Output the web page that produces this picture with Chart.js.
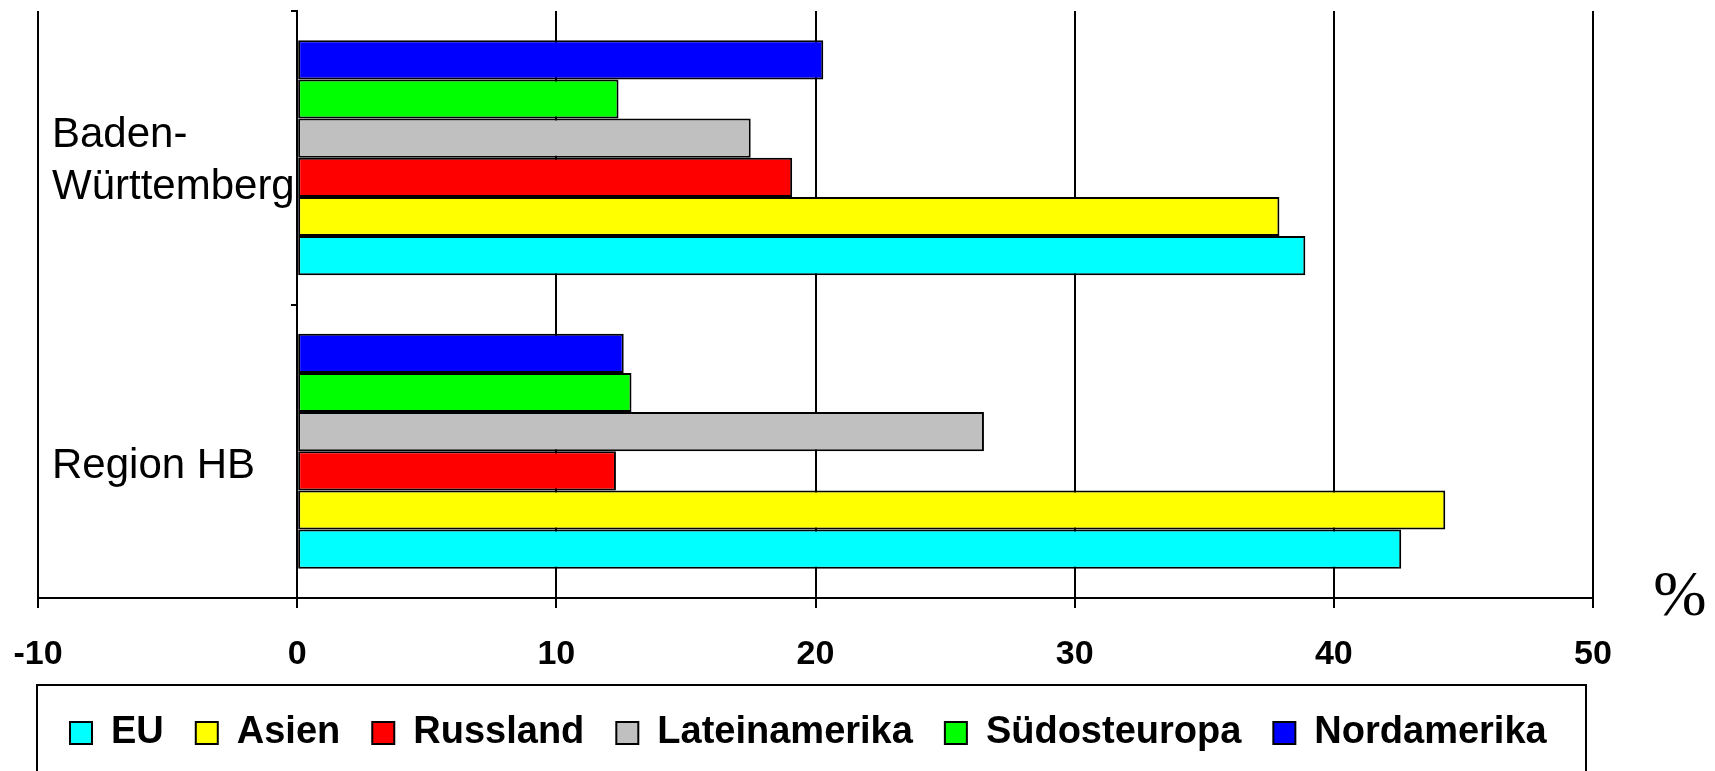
<!DOCTYPE html>
<html>
<head>
<meta charset="utf-8">
<script src="https://cdn.jsdelivr.net/npm/chart.js@4"></script>
<style>
  html, body { margin: 0; padding: 0; background: #fff; }
  canvas { display: block; }
</style>
</head>
<body>
<canvas id="chart" width="1715" height="771"></canvas>
<script>
// data (percent)
const categories = [['Baden-', 'Württemberg'], 'Region HB'];
const xTicks = [-10, 0, 10, 20, 30, 40, 50];

// order top-to-bottom inside each group; legend is shown reversed
const seriesNames = ['Nordamerika', 'Südosteuropa', 'Lateinamerika', 'Russland', 'Asien', 'EU'];
const seriesColors = ['#0000ff', '#00ff00', '#c0c0c0', '#ff0000', '#ffff00', '#00ffff'];

const nordamerika   = [20.3, 12.6];
const suedosteuropa = [12.4, 12.9];
const lateinamerika = [17.5, 26.5];
const russland      = [19.1, 12.3];
const asien         = [37.9, 44.3];
const eu            = [38.9, 42.6];

const seriesValues = [nordamerika, suedosteuropa, lateinamerika, russland, asien, eu];

const FONT = '"Liberation Sans", Arial, sans-serif';

function buildDatasets() {
    const datasets = [];
    for (let idx = 0; idx < seriesNames.length; idx++) {
        datasets.push({
            label: seriesNames[idx],
            data: seriesValues[idx],
            backgroundColor: seriesColors[idx],
            borderColor: '#000',
            borderWidth: 2,
            borderSkipped: false,
            barPercentage: 1.0,
            categoryPercentage: 0.8
        });
    }
    return datasets;
}

// category names sit inside the plot, left aligned next to the -10 line
const categoryLabels = {
    id: 'categoryLabels',
    afterDatasetsDraw(chart) {
        const {ctx, chartArea, scales} = chart;
        ctx.save();
        ctx.font = '42px ' + FONT;
        ctx.fillStyle = '#000';
        ctx.textAlign = 'left';
        ctx.textBaseline = 'middle';
        scales.y.getLabels().forEach((label, i) => {
            const lines = [].concat(label);
            const yc = scales.y.getPixelForValue(i) + 15 - 11 * (lines.length - 1);
            lines.forEach((line, j) => {
                ctx.fillText(line, chartArea.left + 14, yc + (j - (lines.length - 1) / 2) * 52);
            });
        });
        ctx.restore();
    }
};

// "%" unit next to the axis end, and the frame round the legend
const extras = {
    id: 'extras',
    afterDraw(chart) {
        const {ctx, chartArea, legend} = chart;
        ctx.save();
        ctx.font = '64px "Liberation Serif", "Times New Roman", serif';
        ctx.fillStyle = '#000';
        ctx.textAlign = 'center';
        ctx.textBaseline = 'middle';
        ctx.fillText('%', chartArea.right + 87, chartArea.bottom);

        const top = legend.top + 3;
        const left = chartArea.left - 1;
        const right = chartArea.right - 7;
        ctx.strokeStyle = '#000';
        ctx.lineWidth = 2;
        ctx.beginPath();
        ctx.moveTo(left, chart.height + 5);
        ctx.lineTo(left, top);
        ctx.lineTo(right, top);
        ctx.lineTo(right, chart.height + 5);
        ctx.stroke();
        ctx.restore();
    }
};

new Chart(document.getElementById('chart'), {
    type: 'bar',
    data: {
        labels: categories,
        datasets: buildDatasets()
    },
    plugins: [categoryLabels, extras],
    options: {
        indexAxis: 'y',
        responsive: false,
        animation: false,
        devicePixelRatio: 1,
        layout: {
            padding: {left: 38, right: 122, top: 11, bottom: 9}
        },
        plugins: {
            tooltip: {enabled: false},
            legend: {
                position: 'bottom',
                align: 'start',
                reverse: true,
                labels: {
                    color: '#000',
                    font: {family: FONT, size: 38, weight: 'bold'},
                    boxWidth: 22,
                    boxHeight: 22,
                    padding: 32
                }
            }
        },
        scales: {
            x: {
                type: 'linear',
                min: xTicks[0],
                max: xTicks[xTicks.length - 1],
                afterBuildTicks: (scale) => {
                    scale.ticks = xTicks.map(v => ({value: v}));
                },
                // let the legend tuck in closer under the tick labels
                afterFit: (scale) => {
                    scale.height -= 19;
                },
                grid: {
                    color: '#000',
                    lineWidth: 2,
                    tickLength: 10
                },
                border: {color: '#000', width: 2},
                ticks: {
                    color: '#000',
                    padding: 4,
                    font: {family: FONT, size: 34, weight: 'bold', lineHeight: 2.5}
                }
            },
            y: {
                type: 'category',
                position: {x: 0},
                offset: true,
                grid: {
                    display: true,
                    offset: true,
                    drawOnChartArea: false,
                    drawTicks: true,
                    tickLength: 5,
                    color: '#000',
                    lineWidth: 2
                },
                border: {color: '#000', width: 2},
                ticks: {display: false},
                afterFit: (scale) => {
                    scale.width = 0;
                }
            }
        }
    }
});
</script>
</body>
</html>
